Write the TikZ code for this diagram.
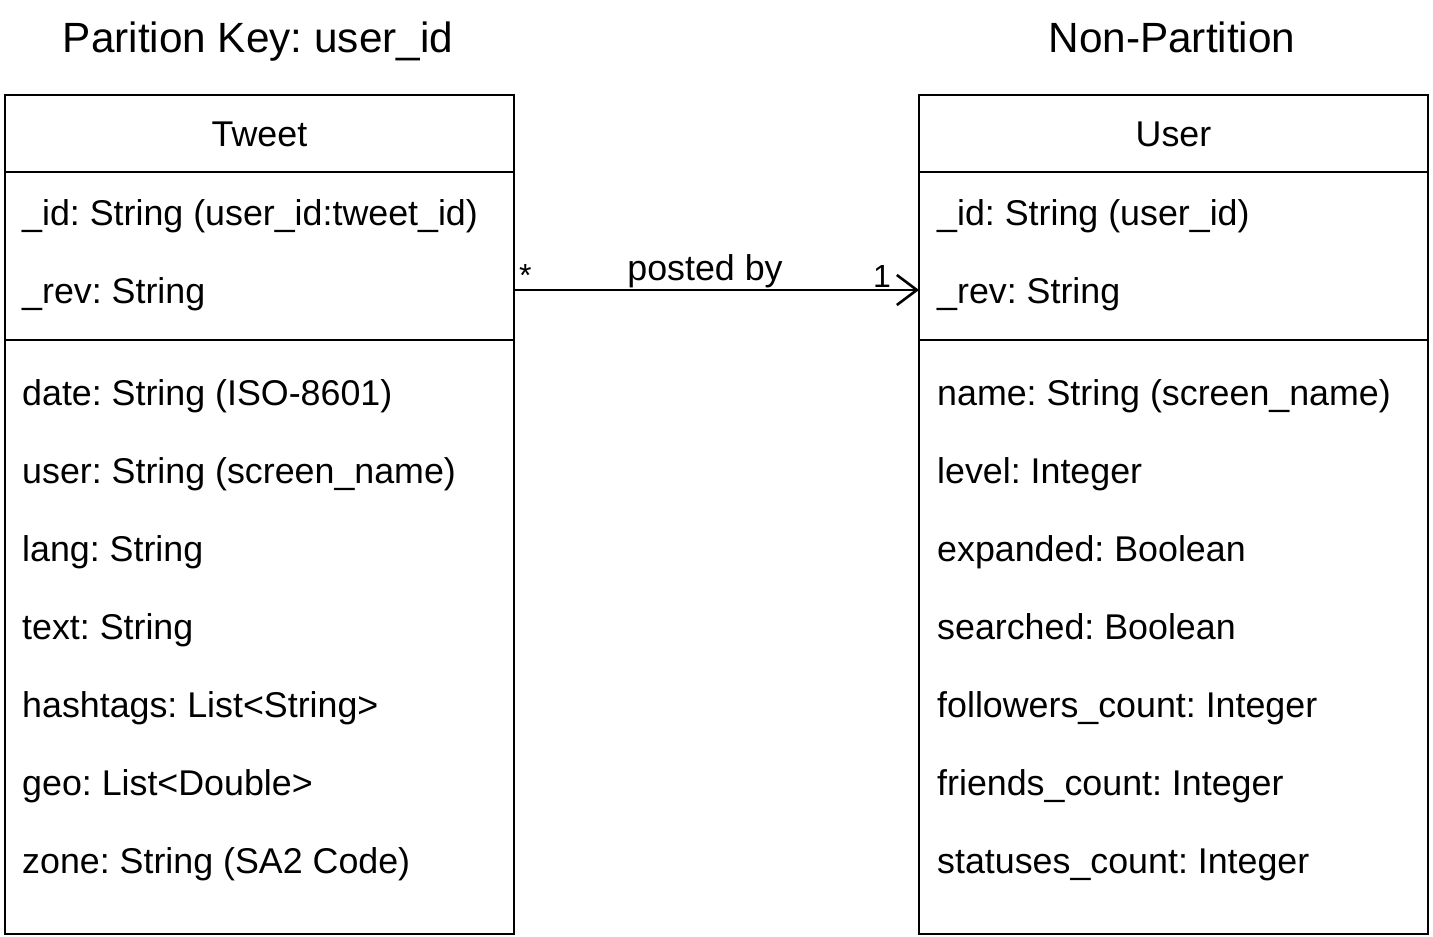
\documentclass[tikz,border=0pt]{standalone}
\usepackage{fontspec}
\setmainfont{Liberation Sans}
\usetikzlibrary{arrows.meta}
\frenchspacing
\begin{document}
\begin{tikzpicture}[x=1pt,y=-1pt,
  box/.style={draw=black,line width=2.6pt},
  sep/.style={draw=black,line width=2.6pt},
  field/.style={anchor=base west,inner sep=0pt,font=\fontsize{35.8}{42}\selectfont},
  head/.style={anchor=base,inner sep=0pt,font=\fontsize{35.8}{42}\selectfont},
  title/.style={anchor=base,inner sep=0pt,font=\fontsize{42.3}{50}\selectfont},
  lbl/.style={inner sep=0pt,font=\fontsize{35.8}{42}\selectfont},
  mult/.style={inner sep=0pt,font=\fontsize{32}{38}\selectfont},
  assoc/.style={draw=black,line width=2.6pt,-{Straight Barb[length=20pt,width=30pt,line width=2.6pt]}}]
\useasboundingbox (0,0) rectangle (1433,937);
% titles
\node[title] (t1) at (258,52) {Parition Key: user\_id};
\node[title] (t2) at (1172,52) {Non-Partition};
% Tweet box
\draw[box] (5,95) rectangle (514,934);
\coordinate (twe) at (514,290);
\draw[sep] (5,172) -- (514,172);
\draw[sep] (5,340) -- (514,340);
\node[head] (tweet) at (259.5,146) {Tweet};
\node[field] (a1) at (22,225) {\_id: String (user\_id:tweet\_id)};
\node[field] (a2) at (22,303) {\_rev: String};
\node[field] (a3) at (22,405) {date: String (ISO-8601)};
\node[field] (a4) at (22,483) {user: String (screen\_name)};
\node[field] (a5) at (22,561) {lang: String};
\node[field] (a6) at (22,639) {text: String};
\node[field] (a7) at (22,717) {hashtags: List<String>};
\node[field] (a8) at (22,795) {geo: List<Double>};
\node[field] (a9) at (22,873) {zone: String (SA2 Code)};
% User box
\draw[box] (919,95) rectangle (1428,934);
\coordinate (usw) at (919,290);
\draw[sep] (919,172) -- (1428,172);
\draw[sep] (919,340) -- (1428,340);
\node[head] (user) at (1173.5,146) {User};
\node[field] (b1) at (937,225) {\_id: String (user\_id)};
\node[field] (b2) at (937,303) {\_rev: String};
\node[field] (b3) at (937,405) {name: String (screen\_name)};
\node[field] (b4) at (937,483) {level: Integer};
\node[field] (b5) at (937,561) {expanded: Boolean};
\node[field] (b6) at (937,639) {searched: Boolean};
\node[field] (b7) at (937,717) {followers\_count: Integer};
\node[field] (b8) at (937,795) {friends\_count: Integer};
\node[field] (b9) at (937,873) {statuses\_count: Integer};
% association
\draw[assoc] (twe) -- (usw);
\node[lbl,anchor=base] (pb) at (705,280) {posted by};
\node[mult,anchor=base west] (m1) at (519,286) {*};
\node[mult,anchor=base east] (m2) at (891,287) {1};
\end{tikzpicture}
\end{document}
